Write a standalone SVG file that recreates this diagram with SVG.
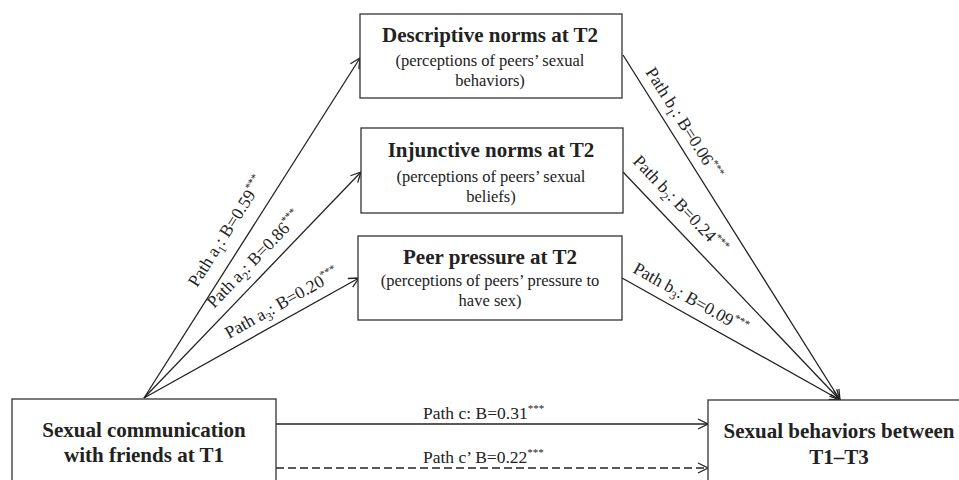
<svg xmlns="http://www.w3.org/2000/svg" width="959" height="480" viewBox="0 0 959 480">
<style>
text{font-family:'Liberation Serif','Times New Roman',serif;fill:#222}
.t{font-weight:bold;font-size:21px;text-anchor:middle}
.s{font-size:16.5px;text-anchor:middle}
.l{font-size:17.5px}
.sb{font-size:12px}
.sp{font-size:11px}
.box{fill:#fff;stroke:#333;stroke-width:1.3}
.ln{stroke:#222;stroke-width:1.3;fill:none}
</style>
<defs>
<marker id="ah" viewBox="0 0 12 12" refX="11" refY="6" markerWidth="12" markerHeight="12" markerUnits="userSpaceOnUse" orient="auto">
<path d="M1,1 L11,6 L1,11" fill="none" stroke="#222" stroke-width="1.3"/>
</marker>
</defs>
<rect width="959" height="480" fill="#fff"/>
<g id="connectors">
<line class="ln" x1="144" y1="398" x2="360" y2="58" marker-end="url(#ah)"/>
<line class="ln" x1="144" y1="398" x2="361" y2="172" marker-end="url(#ah)"/>
<line class="ln" x1="144" y1="398" x2="359" y2="278" marker-end="url(#ah)"/>
<line class="ln" x1="623" y1="55" x2="840" y2="400" marker-end="url(#ah)"/>
<line class="ln" x1="623" y1="172" x2="840" y2="400" marker-end="url(#ah)"/>
<line class="ln" x1="622" y1="278" x2="840" y2="400" marker-end="url(#ah)"/>
<line class="ln" x1="276" y1="424" x2="708" y2="424" marker-end="url(#ah)"/>
<line class="ln" x1="276" y1="468" x2="708" y2="468" stroke-dasharray="8 4" marker-end="url(#ah)"/>
<text class="l" transform="translate(197,288) rotate(-57.6)">Path a<tspan class="sb" dy="4.5">1</tspan><tspan dy="-4.5">: B=0.59</tspan><tspan class="sp" dy="-7">***</tspan></text>
<text class="l" transform="translate(214,309) rotate(-46.2)">Path a<tspan class="sb" dy="4.5">2</tspan><tspan dy="-4.5">: B=0.86</tspan><tspan class="sp" dy="-7">***</tspan></text>
<text class="l" transform="translate(229,339) rotate(-29.3)">Path a<tspan class="sb" dy="4.5">3</tspan><tspan dy="-4.5">: B=0.20</tspan><tspan class="sp" dy="-7">***</tspan></text>
<text class="l" transform="translate(645,72) rotate(57.8)">Path b<tspan class="sb" dy="4.5">1</tspan><tspan dy="-4.5">: B=0.06</tspan><tspan class="sp" dy="-7">***</tspan></text>
<text class="l" transform="translate(632,162) rotate(46.4)">Path b<tspan class="sb" dy="4.5">2</tspan><tspan dy="-4.5">: B=0.24</tspan><tspan class="sp" dy="-7">***</tspan></text>
<text class="l" transform="translate(632,272) rotate(29.2)">Path b<tspan class="sb" dy="4.5">3</tspan><tspan dy="-4.5">: B=0.09</tspan><tspan class="sp" dy="-7">***</tspan></text>
<text class="l" x="423" y="419">Path c: B=0.31<tspan class="sp" dy="-7">***</tspan></text>
<text class="l" x="423" y="463">Path c’ B=0.22<tspan class="sp" dy="-7">***</tspan></text>
</g>
<g id="descriptive">
<rect class="box" x="360" y="14" width="262" height="84"/>
<text class="t" x="490" y="42">Descriptive norms at T2</text>
<text class="s" x="490" y="66">(perceptions of peers’ sexual</text>
<text class="s" x="490" y="86">behaviors)</text>
</g>
<g id="injunctive">
<rect class="box" x="361" y="128" width="262" height="85"/>
<text class="t" x="491" y="157">Injunctive norms at T2</text>
<text class="s" x="491" y="182">(perceptions of peers’ sexual</text>
<text class="s" x="491" y="202">beliefs)</text>
</g>
<g id="pressure">
<rect class="box" x="358" y="236" width="264" height="84"/>
<text class="t" x="490" y="264">Peer pressure at T2</text>
<text class="s" x="490" y="286">(perceptions of peers’ pressure to</text>
<text class="s" x="490" y="306">have sex)</text>
</g>
<g id="communication">
<rect class="box" x="12" y="399" width="264" height="100"/>
<text class="t" x="144" y="437">Sexual communication</text>
<text class="t" x="144" y="462">with friends at T1</text>
</g>
<g id="behaviors">
<rect class="box" x="708" y="400" width="262" height="100"/>
<text class="t" x="839" y="438">Sexual behaviors between</text>
<text class="t" x="839" y="464">T1–T3</text>
</g>
</svg>
